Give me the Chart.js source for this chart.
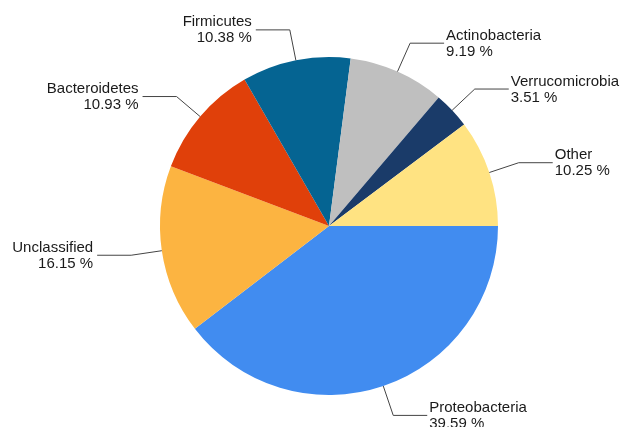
<!DOCTYPE html>
<html>
<head>
<meta charset="utf-8">
<script src="https://cdn.jsdelivr.net/npm/chart.js@4/dist/chart.umd.min.js"></script>
<style>
  html, body { margin: 0; padding: 0; background: #fff; }
  canvas { display: block; }
</style>
</head>
<body>
<canvas id="pie" width="624" height="427"></canvas>
<script>
// Phylum composition, clockwise from 3 o'clock
const phyla = ['Proteobacteria', 'Unclassified', 'Bacteroidetes', 'Firmicutes', 'Actinobacteria', 'Verrucomicrobia', 'Other'];
const shares = [39.59, 16.15, 10.93, 10.38, 9.19, 3.51, 10.25];
const sliceColors = ['#418cf0', '#fcb441', '#e0400a', '#056492', '#bfbfbf', '#1a3b69', '#ffe382'];

// Leader lines + two-line labels outside the pie
const outsideLabels = {
    id: 'outsideLabels',
    afterDraw(chart) {
        const ctx = chart.ctx;
        const meta = chart.getDatasetMeta(0);
        ctx.save();
        ctx.font = '15px "Liberation Sans", Arial, sans-serif';
        ctx.fillStyle = '#1a1a1a';
        ctx.strokeStyle = '#444';
        ctx.lineWidth = 1;
        meta.data.forEach(function (arc, i) {
            const p = arc.getProps(['x', 'y', 'startAngle', 'endAngle', 'outerRadius'], true);
            const mid = (p.startAngle + p.endAngle) / 2;
            const cos = Math.cos(mid), sin = Math.sin(mid);
            const x0 = p.x + cos * p.outerRadius, y0 = p.y + sin * p.outerRadius;
            const x1 = p.x + cos * (p.outerRadius + 31), y1 = p.y + sin * (p.outerRadius + 31);
            const right = cos >= 0;
            const x2 = x1 + (right ? 34 : -34);
            ctx.beginPath();
            ctx.moveTo(x0, y0);
            ctx.lineTo(x1, y1);
            ctx.lineTo(x2, y1);
            ctx.stroke();
            ctx.textAlign = right ? 'left' : 'right';
            ctx.textBaseline = 'alphabetic';
            const tx = x2 + (right ? 2 : -4);
            ctx.fillText(chart.data.labels[i], tx, y1 - 3.5);
            ctx.fillText(shares[i].toFixed(2) + ' %', tx, y1 + 12.5);
        });
        ctx.restore();
    }
};

new Chart(document.getElementById('pie'), {
    type: 'pie',
    data: {
        labels: phyla,
        datasets: [{
            data: shares,
            backgroundColor: sliceColors,
            borderWidth: 0
        }]
    },
    options: {
        responsive: false,
        animation: false,
        rotation: 90,
        layout: { padding: { left: 160, right: 126, top: 57, bottom: 32 } },
        plugins: {
            legend: { display: false },
            tooltip: { enabled: false }
        }
    },
    plugins: [outsideLabels]
});
</script>
</body>
</html>
